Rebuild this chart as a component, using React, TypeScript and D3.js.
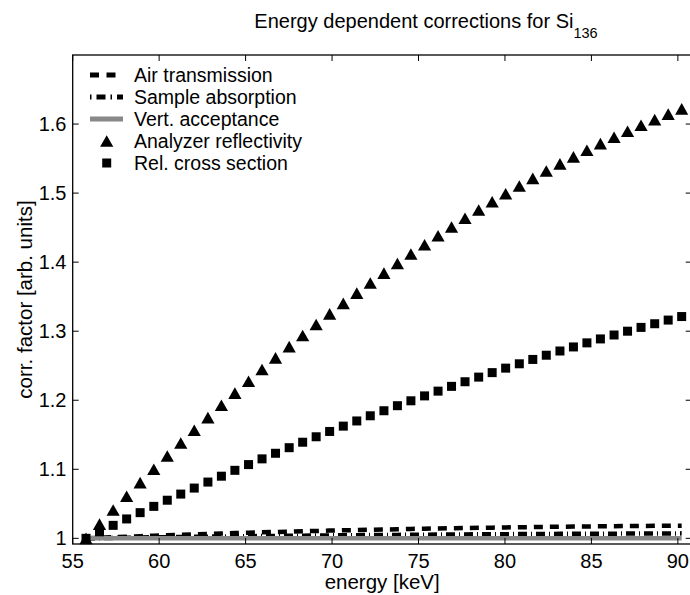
import React from "react";
import * as d3 from "d3";

const energies = [
  55.77, 56.55, 57.34, 58.12, 58.9, 59.69, 60.47, 61.25, 62.03, 62.82, 63.6, 64.38, 65.17, 65.95, 66.73,
  67.52, 68.3, 69.08, 69.86, 70.65, 71.43, 72.21, 73.0, 73.78, 74.56, 75.35, 76.13, 76.91, 77.69, 78.48,
  79.26, 80.04, 80.83, 81.61, 82.39, 83.18, 83.96, 84.74, 85.52, 86.31, 87.09, 87.87, 88.66, 89.44, 90.22,
];

const airTransmission = [
  1.0, 1.0008, 1.0016, 1.0024, 1.0031, 1.0038, 1.0045, 1.0052, 1.0058, 1.0064, 1.007, 1.0076, 1.0082, 1.0087,
  1.0092, 1.0097, 1.0102, 1.0107, 1.0112, 1.0116, 1.012, 1.0124, 1.0128, 1.0132, 1.0136, 1.014, 1.0143, 1.0146,
  1.0149, 1.0152, 1.0155, 1.0158, 1.0161, 1.0163, 1.0166, 1.0168, 1.017, 1.0172, 1.0174, 1.0176, 1.0178, 1.018,
  1.0181, 1.0183, 1.0184,
];

const sampleAbsorption = [
  1.0, 1.0003, 1.0006, 1.0009, 1.0012, 1.0015, 1.0017, 1.002, 1.0022, 1.0024, 1.0027, 1.0029, 1.0031, 1.0033,
  1.0035, 1.0037, 1.0039, 1.0041, 1.0043, 1.0044, 1.0046, 1.0047, 1.0049, 1.005, 1.0052, 1.0053, 1.0054, 1.0056,
  1.0057, 1.0058, 1.0059, 1.006, 1.0062, 1.0063, 1.0064, 1.0065, 1.0066, 1.0067, 1.0067, 1.0068, 1.0069, 1.007,
  1.0071, 1.0071, 1.0072,
];

const vertAcceptance = [
  1, 1, 1, 1, 1, 1, 1, 1, 1, 1, 1, 1, 1, 1, 1, 1, 1, 1, 1, 1, 1, 1, 1, 1, 1, 1, 1, 1, 1, 1, 1, 1, 1, 1, 1, 1, 1, 1,
  1, 1, 1, 1, 1, 1, 1,
];

const analyzerReflectivity = [
  1.0, 1.0206, 1.041, 1.061, 1.0807, 1.1001, 1.1192, 1.1381, 1.1566, 1.1748, 1.1927, 1.2103, 1.2276, 1.2446,
  1.2613, 1.2777, 1.2938, 1.3096, 1.3251, 1.3403, 1.3552, 1.3698, 1.3841, 1.3981, 1.4117, 1.4251, 1.4382, 1.451,
  1.4635, 1.4756, 1.4875, 1.4991, 1.5103, 1.5213, 1.532, 1.5423, 1.5524, 1.5621, 1.5716, 1.5808, 1.5896, 1.5982,
  1.6064, 1.6143, 1.622,
];

const relCrossSection = [
  1.0, 1.0095, 1.0188, 1.0281, 1.0372, 1.0463, 1.0552, 1.0641, 1.0728, 1.0815, 1.09, 1.0985, 1.1068, 1.1151,
  1.1232, 1.1313, 1.1392, 1.1471, 1.1548, 1.1625, 1.17, 1.1775, 1.1848, 1.1921, 1.1992, 1.2063, 1.2132, 1.2201,
  1.2268, 1.2335, 1.24, 1.2465, 1.2528, 1.2591, 1.2652, 1.2713, 1.2772, 1.2831, 1.2888, 1.2945, 1.3, 1.3055,
  1.3108, 1.3161, 1.3212,
];

const xTicks = [55, 60, 65, 70, 75, 80, 85, 90];
const yTicks = [1, 1.1, 1.2, 1.3, 1.4, 1.5, 1.6];
const legendLabels = [
  "Air transmission",
  "Sample absorption",
  "Vert. acceptance",
  "Analyzer reflectivity",
  "Rel. cross section",
];

const FONT = "'Liberation Sans', Arial, Helvetica, sans-serif";

export default function App() {
  const W = 690;
  const H = 595;
  const left = 72.7;
  const right = 691.7;
  const top = 55;
  const bottom = 544;

  const x = d3.scaleLinear().domain([55, 90.8]).range([left, right]);
  const y = d3.scaleLinear().domain([0.9918, 1.7]).range([bottom, top]);

  const lineGen = (vals: number[]) =>
    d3
      .line<number>()
      .x((_, i) => x(energies[i]))
      .y((v) => y(v))(vals) as string;

  const triPath = (cx: number, cy: number) => {
    const hw = 6.6;
    const hh = 5.8;
    return `M${cx},${cy - hh}L${cx + hw},${cy + hh}L${cx - hw},${cy + hh}Z`;
  };
  const sq = 9;
  const tickLen = 6;
  const lw = 4.5;

  const legX0 = 90;
  const legX1 = 123;
  const legTextX = 134;
  const legY0 = 75;
  const legDy = 22;

  return (
    <svg
      width={W}
      height={H}
      style={{ position: "absolute", left: 0, top: 0, background: "#fff" }}
      fontFamily={FONT}
    >
      <rect x={0} y={0} width={W} height={H} fill="#fff" />
      {/* title */}
      <text x={426} y={28} fontSize={20} textAnchor="middle" fill="#000">
        Energy dependent corrections for Si
        <tspan fontSize={14.5} dy={10}>
          136
        </tspan>
      </text>

      {/* data lines */}
      <path d={lineGen(airTransmission)} fill="none" stroke="#000" strokeWidth={lw} strokeDasharray="9,7" />
      <path d={lineGen(sampleAbsorption)} fill="none" stroke="#000" strokeWidth={lw} strokeDasharray="9,4,1,4" />
      <path d={lineGen(vertAcceptance)} fill="none" stroke="#888" strokeWidth={lw} />
      {analyzerReflectivity.map((v, i) => (
        <path key={"t" + i} d={triPath(x(energies[i]), y(v))} fill="#000" />
      ))}
      {relCrossSection.map((v, i) => (
        <rect key={"s" + i} x={x(energies[i]) - sq / 2} y={y(v) - sq / 2} width={sq} height={sq} fill="#000" />
      ))}

      {/* frame */}
      <rect x={left} y={top} width={right - left} height={bottom - top} fill="none" stroke="#000" strokeWidth={1.3} />
      {xTicks.map((t) => (
        <g key={"xt" + t}>
          <line x1={x(t)} x2={x(t)} y1={bottom} y2={bottom - tickLen} stroke="#000" strokeWidth={1} />
          <line x1={x(t)} x2={x(t)} y1={top} y2={top + tickLen} stroke="#000" strokeWidth={1} />
          <text x={x(t)} y={568} fontSize={20} textAnchor="middle" fill="#000">
            {t}
          </text>
        </g>
      ))}
      {yTicks.map((t) => (
        <g key={"yt" + t}>
          <line x1={left} x2={left + tickLen} y1={y(t)} y2={y(t)} stroke="#000" strokeWidth={1} />
          <line x1={right} x2={right - tickLen} y1={y(t)} y2={y(t)} stroke="#000" strokeWidth={1} />
          <text x={66.5} y={y(t) + 7} fontSize={20} textAnchor="end" fill="#000">
            {t === 1 ? "1" : t.toFixed(1)}
          </text>
        </g>
      ))}

      {/* axis labels */}
      <text x={(left + right) / 2} y={589} fontSize={20.5} textAnchor="middle" fill="#000">
        energy [keV]
      </text>
      <text
        transform={`translate(32,${(top + bottom) / 2}) rotate(-90)`}
        fontSize={20.5}
        textAnchor="middle"
        fill="#000"
      >
        corr. factor [arb. units]
      </text>

      {/* legend */}
      <g fontSize={19.5}>
        <line x1={legX0} x2={legX1} y1={legY0} y2={legY0} stroke="#000" strokeWidth={5} strokeDasharray="9,7.5" />
        <line
          x1={legX0}
          x2={legX1}
          y1={legY0 + legDy}
          y2={legY0 + legDy}
          stroke="#000"
          strokeWidth={5}
          strokeDasharray="1.5,5,9,5"
        />
        <line x1={legX0} x2={legX1} y1={legY0 + 2 * legDy} y2={legY0 + 2 * legDy} stroke="#888" strokeWidth={5} />
        <path d={triPath(106.7, legY0 + 3 * legDy)} fill="#000" />
        <rect x={106.7 - sq / 2} y={legY0 + 4 * legDy - sq / 2} width={sq} height={sq} fill="#000" />
        {legendLabels.map((l, i) => (
          <text key={l} x={legTextX} y={legY0 + i * legDy + 7} fill="#000">
            {l}
          </text>
        ))}
      </g>
    </svg>
  );
}
